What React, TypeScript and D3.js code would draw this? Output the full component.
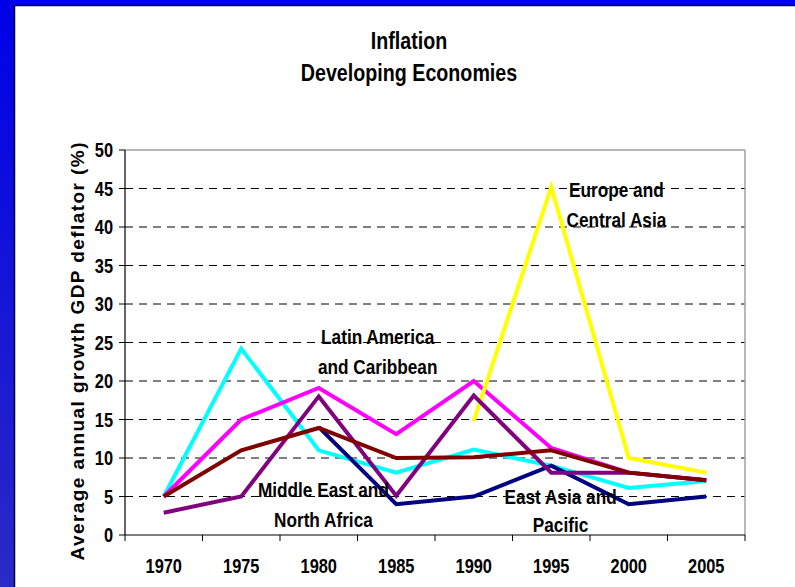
import React from 'react';
import * as d3 from 'd3';

// chart values
const years = ['1970', '1975', '1980', '1985', '1990', '1995', '2000', '2005'];
const yTicks = [0, 5, 10, 15, 20, 25, 30, 35, 40, 45, 50];

const subSaharan = [5, 24.2, 11, 8.1, 11.1, 9, 6.1, 7];
const latinAmerica = [5, 15, 19.1, 13.1, 20, 11.3, 8.1, 7.1];
const europeCentralAsia = [null, null, null, null, 14.8, 45.2, 10, 8.1];
const eastAsiaPacific = [null, null, 14, 4, 5, 9, 4, 5];
const middleEast = [2.9, 5, 18, 5.1, 18.1, 8.1, 8.1, 7.1];
const southAsia = [5, 11, 13.9, 10, 10.1, 11, 8.1, 7.1];

const series = [
  { name: 'Sub-Saharan Africa', values: subSaharan, color: '#00ffff' },
  { name: 'Latin America and Caribbean', values: latinAmerica, color: '#ff00ff' },
  { name: 'Europe and Central Asia', values: europeCentralAsia, color: '#ffff00' },
  { name: 'East Asia and Pacific', values: eastAsiaPacific, color: '#000080' },
  { name: 'Middle East and North Africa', values: middleEast, color: '#800080' },
  { name: 'South Asia', values: southAsia, color: '#800000' },
];

const labels = [
  { lines: ['Latin America', 'and Caribbean'], year: 1983.8, value: [25.7, 21.8] },
  { lines: ['Middle East and', 'North Africa'], year: 1980.3, value: [5.8, 1.9] },
  { lines: ['Europe and', 'Central Asia'], year: 1999.2, value: [44.8, 40.9] },
  { lines: ['East Asia and', 'Pacific'], year: 1995.6, value: [4.9, 1.3] },
];

const W = 795;
const H = 587;
const font = '"Liberation Sans", Arial, sans-serif';

// no Arial Narrow here, so squeeze bold Liberation Sans sideways
const Narrow = ({ x, y, size, anchor = 'middle', children }: any) => (
  <text
    transform={`translate(${x},${y}) scale(0.82,1)`}
    textAnchor={anchor}
    dominantBaseline="central"
    fontFamily={font}
    fontWeight="bold"
    fontSize={size}
    fill="#000"
  >
    {children}
  </text>
);

const App = () => {
  const margin = { top: 150, right: 50, bottom: 52, left: 125 };
  const width = W - margin.left - margin.right;
  const height = H - margin.top - margin.bottom;

  const x = d3.scaleBand().domain(years).range([0, width]);
  const y = d3.scaleLinear().domain([0, 50]).range([height, 0]);
  const yearX = d3
    .scaleLinear()
    .domain([1970, 2005])
    .range([x('1970')! + x.bandwidth() / 2, x('2005')! + x.bandwidth() / 2]);

  const line = d3
    .line<number | null>()
    .defined((d) => d !== null)
    .x((d, i) => x(years[i])! + x.bandwidth() / 2)
    .y((d) => y(d as number));

  const boundaries = d3.range(years.length + 1).map((i) => i * x.step());

  return (
    <svg
      width={W}
      height={H}
      style={{ position: 'absolute', left: 0, top: 0, background: '#fff' }}
    >
      <defs>
        <linearGradient id="edge" x1="0" y1="0" x2="0" y2="1">
          <stop offset="0%" stopColor="#0000e8" />
          <stop offset="100%" stopColor="#2a2ac6" />
        </linearGradient>
      </defs>

      {/* slide frame */}
      <rect x={0} y={0} width={14} height={H} fill="url(#edge)" />
      <rect x={0} y={0} width={W} height={5} fill="#0000e8" />
      <line x1={14.5} y1={5} x2={14.5} y2={H} stroke="#000040" strokeWidth={1.5} />
      <line x1={14} y1={5.5} x2={W} y2={5.5} stroke="#000040" strokeWidth={1.5} />

      <Narrow x={409} y={41} size={24}>
        Inflation
      </Narrow>
      <Narrow x={409} y={73} size={24}>
        Developing Economies
      </Narrow>

      <text
        transform={`translate(77, ${margin.top + height / 2 + 9}) rotate(-90)`}
        textAnchor="middle"
        dominantBaseline="central"
        fontFamily={font}
        fontWeight="bold"
        fontSize={19}
        textLength={418}
        lengthAdjust="spacing"
      >
        Average annual growth GDP deflator (%)
      </text>

      <g transform={`translate(${margin.left},${margin.top})`}>
        {/* gridlines */}
        {yTicks
          .filter((t) => t > 0 && t < 50)
          .map((t) => (
            <line
              key={t}
              x1={0}
              x2={width}
              y1={y(t)}
              y2={y(t)}
              stroke="#000"
              strokeWidth={1}
              strokeDasharray="8,6"
            />
          ))}
        <line x1={0} x2={width} y1={y(50)} y2={y(50)} stroke="#a0a0a0" strokeWidth={1.5} />
        <line x1={width} x2={width} y1={y(50)} y2={height} stroke="#a0a0a0" strokeWidth={1.5} />

        {/* axes */}
        <line x1={0} x2={0} y1={y(50)} y2={height} stroke="#000" strokeWidth={1.2} />
        <line x1={0} x2={width} y1={height} y2={height} stroke="#000" strokeWidth={1.2} />
        {yTicks.map((t) => (
          <g key={t}>
            <line x1={-6} x2={0} y1={y(t)} y2={y(t)} stroke="#000" />
            <Narrow x={-12} y={y(t)} size={20} anchor="end">
              {t}
            </Narrow>
          </g>
        ))}
        {boundaries.map((b) => (
          <line key={b} x1={b} x2={b} y1={height} y2={height + 6} stroke="#000" />
        ))}
        {years.map((yr) => (
          <Narrow key={yr} x={x(yr)! + x.bandwidth() / 2} y={height + 31} size={20}>
            {yr}
          </Narrow>
        ))}

        {/* series */}
        {series.map((s) => (
          <path
            key={s.name}
            d={line(s.values) || ''}
            fill="none"
            stroke={s.color}
            strokeWidth={4}
            strokeLinejoin="miter"
          />
        ))}

        {/* region labels */}
        {labels.map((l) =>
          l.lines.map((txt, i) => (
            <Narrow key={txt} x={yearX(l.year)} y={y(l.value[i])} size={21}>
              {txt}
            </Narrow>
          )),
        )}
      </g>
    </svg>
  );
};

export default App;
